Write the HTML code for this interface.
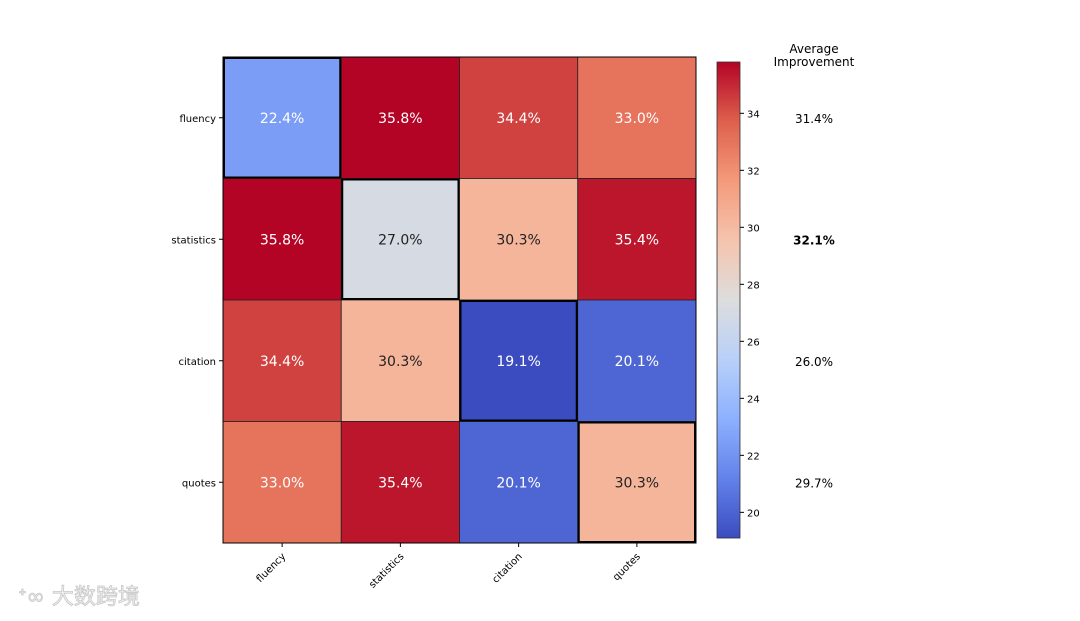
<!DOCTYPE html>
<html><head><meta charset="utf-8"><style>
body{margin:0;background:#fff;}
svg text{font-family:"DejaVu Sans","Liberation Sans","Noto Sans CJK SC",sans-serif;}
</style></head><body>
<svg id="chart" width="1080" height="616" viewBox="0 0 1080 616" xmlns="http://www.w3.org/2000/svg">
<g id="cells"></g>
<g id="xlabels"></g>
<g id="ylabels"></g>
<g id="cbar"></g>
<g id="avg"></g>
<text x="18" y="604" font-size="22" fill="#f2f2f2" stroke="#c8c8c8" stroke-width="0.8">ᐩ∞ 大数跨境</text>
</svg>
<script>
const categories = ["fluency","statistics","citation","quotes"];
const row0 = [22.4,35.8,34.4,33.0];
const row1 = [35.8,27.0,30.3,35.4];
const row2 = [34.4,30.3,19.1,20.1];
const row3 = [33.0,35.4,20.1,30.3];
const averages = ["31.4%","32.1%","26.0%","29.7%"];
const bestRow = 1;
const cbarTicks = [20,22,24,26,28,30,32,34];
const vmin = 19.1, vmax = 35.8;
const rows = [row0,row1,row2,row3];

const NS="http://www.w3.org/2000/svg";
const L=223,T=57,R=696,B=543;
const cw=(R-L)/categories.length, ch=(B-T)/categories.length;
const CBL=717,CBR=740,CBT=62,CBB=538;
function mk(tag,attrs,parent){const e=document.createElementNS(NS,tag);for(const k in attrs)e.setAttribute(k,attrs[k]);parent.appendChild(e);return e;}
const anchors=[[59,76,192],[98,130,234],[141,176,254],[184,208,249],[221,221,221],[245,196,173],[244,154,123],[222,96,77],[180,4,38]];
function cmap(v){let t=(v-vmin)/(vmax-vmin);t=Math.max(0,Math.min(1,t));const p=t*8,i=Math.min(7,Math.floor(p)),f=p-i;const a=anchors[i],b=anchors[i+1];return `rgb(${a.map((c,k)=>Math.round(c+(b[k]-c)*f)).join(",")})`;}
function cy(v){return CBB-(v-vmin)/(vmax-vmin)*(CBB-CBT);}
const cells=document.getElementById('cells');
const mid=(vmin+vmax)/2;
rows.forEach((row,r)=>row.forEach((v,c)=>{
  const rc=mk('rect',{x:L+c*cw,y:T+r*ch,width:cw,height:ch,fill:cmap(v),stroke:'#222','stroke-width':0.8},cells);
  
  
  const tx=mk('text',{x:L+c*cw+cw/2,y:T+r*ch+ch/2+5,'text-anchor':'middle','font-size':14,fill:Math.abs(v-mid)>4?'#fff':'#222'},cells);
  tx.textContent=v.toFixed(1)+'%';
  
  
}));
categories.forEach((c,i)=>{
  const d=mk('rect',{x:L+i*cw+1,y:T+i*ch+1,width:cw-2,height:ch-2,fill:'none',stroke:'#000','stroke-width':2},cells);
  
  
});
mk('rect',{x:L,y:T,width:R-L,height:B-T,fill:'none',stroke:'#000','stroke-width':1},cells);
const xl=document.getElementById('xlabels'),yl=document.getElementById('ylabels');
categories.forEach((c,i)=>{
  const x=L+i*cw+cw/2;
  mk('line',{x1:x,y1:B,x2:x,y2:B+4,stroke:'#000'},xl);
  const t=mk('text',{x:x+4,y:B+14,'text-anchor':'end','font-size':10,transform:`rotate(-45 ${x+4} ${B+14})`},xl);
  t.textContent=c;
  
  
  const y=T+i*ch+ch/2;
  mk('line',{x1:L-4,y1:y,x2:L,y2:y,stroke:'#000'},yl);
  const u=mk('text',{x:L-7,y:y+4,'text-anchor':'end','font-size':10},yl);
  u.textContent=c;
  
  
});
const cb=document.getElementById('cbar');
for(let y=CBT;y<CBB;y++){mk('rect',{x:CBL,y:y,width:CBR-CBL,height:1.2,fill:cmap(vmin+(CBB-y-0.5)/(CBB-CBT)*(vmax-vmin))},cb);}
mk('rect',{x:CBL,y:CBT,width:CBR-CBL,height:CBB-CBT,fill:'none',stroke:'#333','stroke-width':0.8},cb);
cbarTicks.forEach(v=>{const y=cy(v);mk('line',{x1:CBR,y1:y,x2:CBR+4,y2:y,stroke:'#000'},cb);
  const t=mk('text',{x:CBR+7,y:y+4,'font-size':10},cb);t.textContent=v;
  
  });
const av=document.getElementById('avg');
const h1=mk('text',{x:814,y:53,'text-anchor':'middle','font-size':12},av);h1.textContent='Average';
const h2=mk('text',{x:814,y:66,'text-anchor':'middle','font-size':12},av);h2.textContent='Improvement';
averages.forEach((a,i)=>{const t=mk('text',{x:814,y:T+i*ch+ch/2+5,'text-anchor':'middle','font-size':12,'font-weight':i===bestRow?'bold':'normal'},av);t.textContent=a;
  
  });
</script>
</body></html>
